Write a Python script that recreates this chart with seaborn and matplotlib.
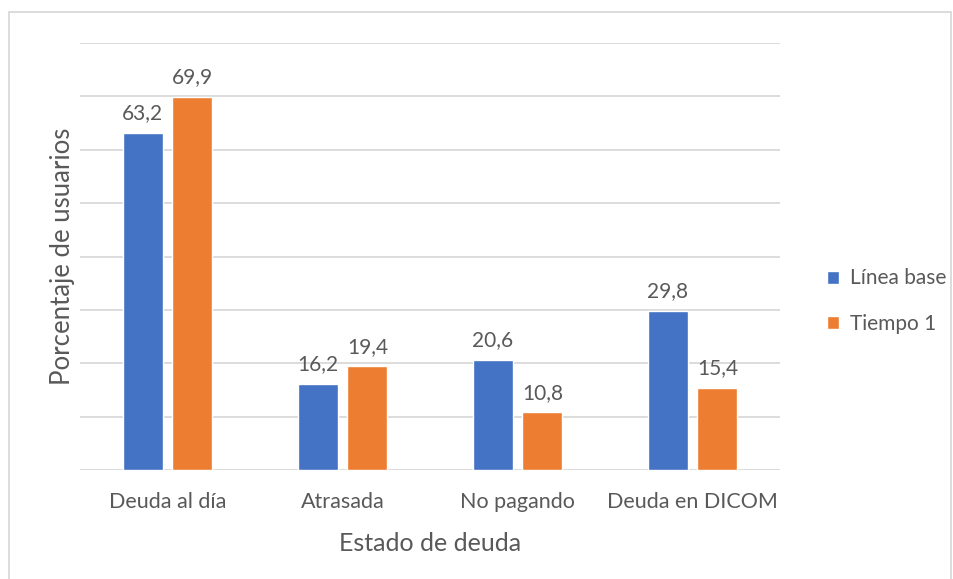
import pandas as pd
import matplotlib
matplotlib.use("Agg")
import matplotlib.pyplot as plt
import seaborn as sns
from matplotlib.patches import Rectangle

# ----------------------------------------------------------------------
# Data
# ----------------------------------------------------------------------
categorias = ["Deuda al día", "Atrasada", "No pagando", "Deuda en DICOM"]
series = ["Línea base", "Tiempo 1"]
linea_base = [63.2, 16.2, 20.6, 29.8]
tiempo_1 = [69.9, 19.4, 10.8, 15.4]

df = pd.DataFrame({
    "estado": categorias * 2,
    "serie": [series[0]] * 4 + [series[1]] * 4,
    "pct": linea_base + tiempo_1,
})

# ----------------------------------------------------------------------
# Plot
# ----------------------------------------------------------------------
sns.set_style("white")
plt.rcParams["font.family"] = ["Lato", "DejaVu Sans"]
gris = "#595959"

fig = plt.figure(figsize=(9.54, 5.79), dpi=100)
ax = fig.add_axes([80 / 954, 1 - 470 / 579, 700 / 954, 427 / 579])

sns.barplot(data=df, x="estado", y="pct", hue="serie", order=categorias,
            hue_order=series, palette=["#4472C4", "#ED7D31"],
            width=0.571, gap=0.2, saturation=1, ax=ax, legend=True)

for cont in ax.containers:
    ax.bar_label(cont, labels=[f"{v:.1f}".replace(".", ",") for v in cont.datavalues],
                 padding=7, fontsize=15, color=gris)

ax.set_xlim(-0.5, 3.5)
ax.set_ylim(0, 80)
ax.set_yticks(range(0, 81, 10))
ax.set_yticklabels([])
ax.yaxis.grid(True, color="#D9D9D9", linewidth=1.3)
ax.set_axisbelow(True)
sns.despine(ax=ax, left=True, bottom=True, top=True, right=True)
ax.tick_params(axis="x", length=0, pad=16, labelsize=15.5, labelcolor=gris)
ax.tick_params(axis="y", length=0)

ax.set_xlabel("Estado de deuda", fontsize=18, color=gris, labelpad=14)
ax.set_ylabel("Porcentaje de usuarios", fontsize=18.5, color=gris, labelpad=0)

ax.get_legend().remove()
handles, labels = ax.get_legend_handles_labels()
fig.legend(handles, labels, loc="center left", bbox_to_anchor=(808 / 954, 1 - 301 / 579),
           frameon=False, fontsize=15, labelcolor=gris, handlelength=0.6,
           handleheight=0.6, handletextpad=0.5, labelspacing=1.2)

# figure border
fig.patches.append(Rectangle((9 / 954, -0.01), 942 / 954, 1 - 12 / 579 + 0.01,
                             transform=fig.transFigure, fill=False,
                             edgecolor="#D9D9D9", linewidth=1.3))

fig.savefig("out.png", dpi=100)
